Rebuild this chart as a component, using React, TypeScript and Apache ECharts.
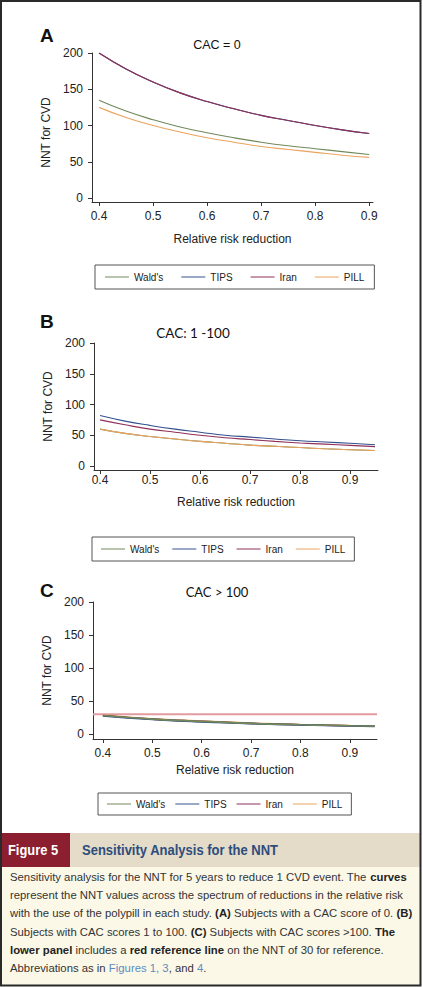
import React, { useEffect, useRef } from "react";
import * as echarts from "echarts";

// ---------- data ----------
const seriesNames = ["Wald's", "TIPS", "Iran", "PILL"];
const seriesColors = ["#71895a", "#33508f", "#8f3057", "#eba45f"];

const xTicksA = [0.4, 0.5, 0.6, 0.7, 0.8, 0.9];
const xTicksB = [0.4, 0.5, 0.6, 0.7, 0.8, 0.9];
const yTicks = [0, 50, 100, 150, 200];

const rrrA = [0.4, 0.45, 0.5, 0.55, 0.6, 0.65, 0.7, 0.75, 0.8, 0.85, 0.9];
const waldA = [135, 120, 108, 98, 90, 83, 77, 72, 68, 64, 60];
const tipsA = [200, 178, 160, 145, 133, 123, 114, 107, 100, 94, 89];
const iranA = [200, 178, 160, 145, 133, 123, 114, 107, 100, 94, 89];
const pillA = [125, 111, 100, 91, 83, 77, 71, 67, 63, 59, 56];

const rrrB = [0.4, 0.45, 0.5, 0.55, 0.6, 0.65, 0.7, 0.75, 0.8, 0.85, 0.9, 0.95];
const waldB = [60, 53, 48, 44, 40, 37, 34, 32, 30, 28, 26.5, 25.3];
const tipsB = [82, 73, 66, 60, 55, 50, 47, 44, 41, 39, 37, 34.5];
const iranB = [75, 67, 60, 55, 50, 46, 43, 40, 37.5, 35.5, 33.5, 31.5];
const pillB = [60, 53, 48, 44, 40, 37, 34, 32, 30, 28, 26.5, 25.3];

const rrrC = [0.4, 0.45, 0.5, 0.55, 0.6, 0.65, 0.7, 0.75, 0.8, 0.85, 0.9, 0.95];
const waldC = [28, 25, 22.5, 20.5, 19, 17.5, 16, 15, 14, 13.2, 12.5, 11.8];
const tipsC = [27.5, 24.5, 22, 20, 18.5, 17, 15.8, 14.7, 13.8, 13, 12.3, 11.6];
const iranC = [28, 25, 22.5, 20.5, 19, 17.5, 16, 15, 14, 13.2, 12.5, 11.8];
const pillC = [28.6, 25.6, 23, 21, 19.4, 17.9, 16.4, 15.3, 14.3, 13.5, 12.8, 12.1];
const refLineX = [0.38, 0.955];
const refLineY = [30, 30];

const panelTitles = ["CAC = 0", "CAC: 1 -100", "CAC > 100"];
const panelLetters = ["A", "B", "C"];

const captionLines = [
  "Sensitivity analysis for the NNT for 5 years to reduce 1 CVD event. The {b|curves}",
  "represent the NNT values across the spectrum of reductions in the relative risk",
  "with the use of the polypill in each study. {b|(A)} Subjects with a CAC score of 0. {b|(B)}",
  "Subjects with CAC scores 1 to 100. {b|(C)} Subjects with CAC scores >100. {b|The}",
  "{b|lower panel} includes a {b|red reference line} on the NNT of 30 for reference.",
  "Abbreviations as in {l|Figures 1, 3}, and {l|4}.",
];

const FONT = "'Liberation Sans', Arial, sans-serif";

function zip(xs: number[], ys: number[]) {
  return xs.map((x, i) => [x, ys[i]]);
}

export default function App() {
  const ref = useRef<HTMLDivElement>(null);

  useEffect(() => {
    if (!ref.current) return;
    const chart = echarts.init(ref.current, undefined, { renderer: "svg" });

    const grids = [
      { left: 92, top: 53, width: 281, height: 149 },
      { left: 94, top: 343, width: 284, height: 127 },
      { left: 93, top: 602, width: 284, height: 137 },
    ];
    const xRanges = [
      [0.387, 0.907],
      [0.388, 0.956],
      [0.38, 0.955],
    ];
    const yMins = [-5.5, -6.5, -7.6];
    const xLabelMargins = [8, 4, 8];
    const xNameGaps = [31, 26, 25];
    const yNameGaps = [33, 36, 35];
    const xTickSets = [xTicksA, xTicksB, xTicksB];

    const axisColor = "#333";
    const textColor = "#222";

    const xAxes = [0, 1, 2].map((i) => ({
      type: "value",
      gridIndex: i,
      min: xRanges[i][0],
      max: xRanges[i][1],
      axisLine: { show: true, onZero: false, lineStyle: { color: axisColor, width: 1 } },
      axisTick: { show: true, length: 4, customValues: xTickSets[i], lineStyle: { color: axisColor } },
      axisLabel: {
        customValues: xTickSets[i],
        margin: xLabelMargins[i],
        fontSize: 12,
        color: textColor,
        fontFamily: FONT,
        formatter: (v: number) => v.toFixed(1),
      },
      splitLine: { show: false },
      name: "Relative risk reduction",
      nameLocation: "middle",
      nameGap: xNameGaps[i],
      nameTextStyle: { fontSize: 12, color: textColor, fontFamily: FONT },
    }));

    const yAxes = [0, 1, 2].map((i) => ({
      type: "value",
      gridIndex: i,
      min: yMins[i],
      max: 200,
      axisLine: { show: true, onZero: false, lineStyle: { color: axisColor, width: 1 } },
      axisTick: { show: true, length: 4, customValues: yTicks, lineStyle: { color: axisColor } },
      axisLabel: {
        customValues: yTicks,
        margin: 9,
        fontSize: 12,
        color: textColor,
        fontFamily: FONT,
      },
      splitLine: { show: false },
      name: "NNT for CVD",
      nameLocation: "middle",
      nameGap: yNameGaps[i],
      nameTextStyle: {
        fontSize: 12,
        color: textColor,
        fontFamily: FONT,
        padding: i === 0 ? [0, 10, 0, 0] : 0,
      },
    }));

    const panelData = [
      [waldA, tipsA, iranA, pillA],
      [waldB, tipsB, iranB, pillB],
      [waldC, tipsC, iranC, pillC],
    ];
    const panelX = [rrrA, rrrB, rrrC];
    const widths = [1.1, 1.1, 1.7];
    const series: any[] = [];
    panelData.forEach((sets, p) => {
      const order = p === 2 ? [3, 2, 1, 0] : [0, 1, 2, 3];
      order.forEach((k) => {
        series.push({
          type: "line",
          name: seriesNames[k],
          xAxisIndex: p,
          yAxisIndex: p,
          data: zip(panelX[p], sets[k]),
          smooth: true,
          showSymbol: false,
          symbol: "none",
          color: seriesColors[k],
          lineStyle: { color: seriesColors[k], width: widths[p] },
          z: 3,
        });
      });
    });
    series.push({
      type: "line",
      name: "Reference",
      xAxisIndex: 2,
      yAxisIndex: 2,
      data: zip(refLineX, refLineY),
      showSymbol: false,
      symbol: "none",
      color: "#e39aa0",
      lineStyle: { color: "#e39aa0", width: 2 },
      z: 2,
    });

    const legendBase = {
      data: seriesNames,
      orient: "horizontal",
      icon: "rect",
      itemWidth: 24,
      itemHeight: 1,
      borderColor: "#555",
      borderWidth: 1,
      backgroundColor: "#fff",
      textStyle: { fontSize: 10, color: textColor, fontFamily: FONT },
      selectedMode: false,
    };
    const legends = [
      { ...legendBase, left: 95, top: 265, padding: [7, 10], itemGap: 18 },
      { ...legendBase, left: 92, top: 537, padding: [7, 9], itemGap: 13 },
      { ...legendBase, left: 98, top: 793, padding: [6, 9], itemGap: 10 },
    ];

    const letterPos = [
      [40, 35],
      [40, 321],
      [40, 590],
    ];
    const titlePos = [
      [217, 45],
      [193, 333],
      [217, 592],
    ];
    const titleFonts = [FONT, "Lato, sans-serif", "Lato, sans-serif"];
    const titleSizes = [12.5, 13.5, 13];

    const graphics: any[] = [];
    panelLetters.forEach((t, i) => {
      graphics.push({
        type: "text",
        x: letterPos[i][0],
        y: letterPos[i][1],
        style: {
          text: t,
          fontSize: 19,
          fontWeight: "bold",
          fontFamily: FONT,
          fill: "#111",
          verticalAlign: "middle",
        },
      });
    });
    panelTitles.forEach((t, i) => {
      graphics.push({
        type: "text",
        x: titlePos[i][0],
        y: titlePos[i][1],
        style: {
          text: t,
          fontSize: titleSizes[i],
          fontFamily: titleFonts[i],
          fill: "#111",
          align: "center",
          verticalAlign: "middle",
        },
      });
    });

    // caption
    graphics.push({
      type: "rect",
      shape: { x: 1, y: 867, width: 419, height: 118 },
      style: { fill: "#fbf8e8" },
    });
    graphics.push({
      type: "rect",
      shape: { x: 70, y: 833, width: 350, height: 34 },
      style: { fill: "#e4dbc8" },
    });
    graphics.push({
      type: "rect",
      shape: { x: 1, y: 833, width: 69, height: 34 },
      style: { fill: "#8b1f30" },
    });
    graphics.push({
      type: "text",
      x: 8,
      y: 850,
      scaleX: 0.92,
      style: {
        text: "Figure 5",
        fontSize: 14,
        fontWeight: "bold",
        fontFamily: FONT,
        fill: "#fff",
        verticalAlign: "middle",
      },
    });
    graphics.push({
      type: "text",
      x: 82,
      y: 850,
      scaleX: 0.93,
      style: {
        text: "Sensitivity Analysis for the NNT",
        fontSize: 14,
        fontWeight: "bold",
        fontFamily: FONT,
        fill: "#2c4d7d",
        verticalAlign: "middle",
      },
    });
    const lineYs = [877, 895.2, 913.4, 931.6, 949.8, 968];
    graphics.push({
      type: "group",
      x: 10,
      y: 0,
      scaleX: 1.03,
      children: captionLines.map((t, i) => ({
        type: "text",
        x: 0,
        y: lineYs[i],
        style: {
          text: t,
          fontSize: 11,
          fontFamily: FONT,
          fill: "#333",
          verticalAlign: "middle",
          rich: {
            b: { fontWeight: "bold", fontSize: 11, fontFamily: FONT, fill: "#222" },
            l: { fontSize: 11, fontFamily: FONT, fill: "#5b8cc2" },
          },
        },
      })),
    });
    // frame
    graphics.push({
      type: "rect",
      shape: { x: 1, y: 1, width: 419.5, height: 984.5 },
      style: { fill: "none", stroke: "#2a2a2a", lineWidth: 2 },
      z: 10,
    });

    chart.setOption({
      animation: false,
      backgroundColor: "#fff",
      grid: grids.map((g) => ({ ...g, containLabel: false, outerBoundsMode: "none" })),
      xAxis: xAxes,
      yAxis: yAxes,
      legend: legends,
      series,
      graphic: graphics,
    });

    return () => {
      chart.dispose();
    };
  }, []);

  return (
    <div
      ref={ref}
      style={{ position: "absolute", left: 0, top: 0, width: 423, height: 987 }}
    />
  );
}
